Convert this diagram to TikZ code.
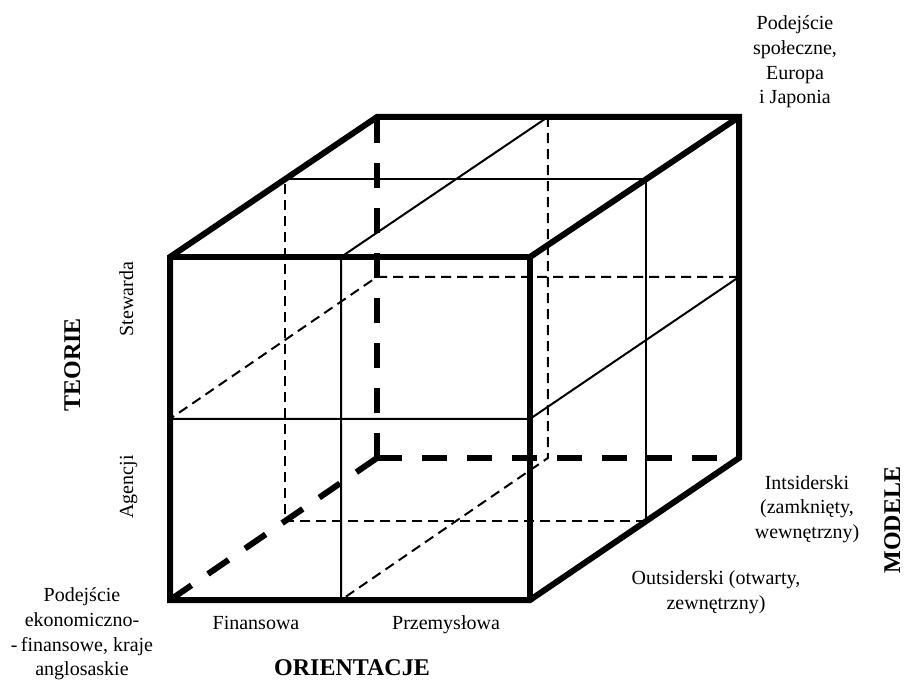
\documentclass[tikz,border=0pt]{standalone}
\usepackage{fontspec}
\setmainfont{Liberation Serif}
\usetikzlibrary{calc}
\begin{document}
\begin{tikzpicture}[x=0.75pt,y=-0.75pt,
  edge/.style={line width=4.5pt, line join=miter},
  hidden/.style={line width=4.5pt, dash pattern=on 18.75pt off 15pt},
  thinline/.style={line width=1.5pt},
  thindash/.style={line width=1.5pt, dash pattern=on 7.5pt off 4.5pt},
  lbl/.style={font=\fontsize{15}{18.5}\selectfont, align=center, inner sep=0pt},
  ttl/.style={font=\fontsize{18}{21}\selectfont\bfseries, inner sep=0pt}]
\useasboundingbox (0,0) rectangle (905,681);
% cube corners
\coordinate (A) at (170,257);
\coordinate (B) at (530,257);
\coordinate (C) at (530,600);
\coordinate (D) at (170,600);
\coordinate (E) at (377,117);
\coordinate (F) at (739,117);
\coordinate (G) at (739,458);
\coordinate (H) at (377,458);
% horizontal middle plane
\coordinate (P1) at ($(A)!0.472!(D)$);
\coordinate (P2) at ($(B)!0.472!(C)$);
\coordinate (P3) at ($(F)!0.469!(G)$);
\coordinate (P4) at ($(E)!0.469!(H)$);
% vertical middle plane
\coordinate (Q1) at ($(A)!0.475!(B)$);
\coordinate (Q2) at ($(E)!0.472!(F)$);
\coordinate (Q3) at ($(H)!0.472!(G)$);
\coordinate (Q4) at ($(D)!0.475!(C)$);
% depth plane
\coordinate (R1) at ($(A)!0.555!(E)$);
\coordinate (R2) at ($(B)!0.555!(F)$);
\coordinate (R3) at ($(C)!0.555!(G)$);
\coordinate (R4) at ($(D)!0.555!(H)$);
% thin lines
\draw[thinline] (P1) -- (P2) -- (P3);
\draw[thindash] (P3) -- (P4) -- (P1);
\draw[thinline] (Q4) -- (Q1) -- (Q2);
\draw[thindash] (Q2) -- (Q3) -- (Q4);
\draw[thinline] (R1) -- (R2) -- (R3);
\draw[thindash] (R3) -- (R4) -- (R1);
% hidden thick edges
\draw[hidden] (H) -- (E);
\draw[hidden] (H) -- (G);
\draw[hidden] (H) -- (D);
% visible thick edges
\draw[edge] (D) -- (A) -- (E) -- (F) -- (G) -- (C) -- cycle;
\draw[edge] (A) -- (B) -- (C);
\draw[edge] (B) -- (F);
% labels
\node[lbl] (spol) at (795,62) {Podejście\\społeczne,\\Europa\\i Japonia};
\node[lbl] (ekon) at (82,634) {Podejście\\ekonomiczno-\\-\,finansowe, kraje\\anglosaskie};
\node[lbl, anchor=base] (fin) at (256,629) {Finansowa};
\node[lbl, anchor=base] (prz) at (446,629) {Przemysłowa};
\node[ttl, anchor=base] (orient) at (352,675) {ORIENTACJE};
\node[lbl, rotate=90, anchor=base] (stew) at (133,299) {Stewarda};
\node[lbl, rotate=90, anchor=base] (agen) at (133,487) {Agencji};
\node[ttl, rotate=90, anchor=base] (teorie) at (80,365) {TEORIE};
\node[ttl, rotate=90, anchor=base] (modele) at (900,520) {MODELE};
\node[lbl] (ints) at (807,509) {Intsiderski\\(zamknięty,\\wewnętrzny)};
\node[lbl] (outs) at (716,592) {Outsiderski (otwarty,\\zewnętrzny)};
\end{tikzpicture}
\end{document}
